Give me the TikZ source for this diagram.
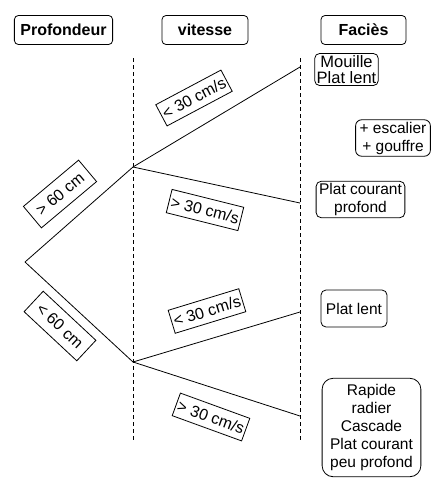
\documentclass[tikz,border=0pt]{standalone}
\usepackage{fontspec}
\setmainfont{Liberation Sans}
\usetikzlibrary{positioning}

\tikzset{
  titre/.style={draw, rounded corners=4pt, font=\fontsize{16}{18}\selectfont\bfseries, minimum height=29pt, inner xsep=6pt},
  facies/.style={draw, rounded corners=5pt, align=center, font=\fontsize{15.5}{18}\selectfont, inner xsep=4pt, inner ysep=2pt},
  seuil/.style={draw, fill=white, font=\fontsize{16}{18}\selectfont, inner xsep=2pt, minimum height=24pt},
  limite/.style={dashed, dash pattern=on 4pt off 3pt},
}

\begin{document}
\begin{tikzpicture}[x=1pt, y=-1pt, line width=0.8pt]
\useasboundingbox (0,0) rectangle (431,480);

% titres des colonnes
\path (63.5,30) node[titre] (tprof) {Profondeur};
\path (205,30) node[titre, minimum width=86pt] (tvit) {vitesse};
\path (363.5,30) node[titre, minimum width=85pt] (tfac) {Faciès};

% limites entre colonnes
\coordinate (l1h) at (133,58);
\coordinate (l1b) at (133,440);
\coordinate (l2h) at (300,58);
\coordinate (l2b) at (300,440);
\draw[limite] (l1h) -- (l1b);
\draw[limite] (l2h) -- (l2b);

% points de l'arbre
\coordinate (racine) at (25,262);
\coordinate (v1) at (133,167);
\coordinate (v2) at (133,362);
\coordinate (f1) at (300,67);
\coordinate (f2) at (300,203);
\coordinate (f3) at (300,312);
\coordinate (f4) at (300,416);

\draw (racine) -- (v1);
\draw (racine) -- (v2);
\draw (v1) -- (f1);
\draw (v1) -- (f2);
\draw (v2) -- (f3);
\draw (v2) -- (f4);

% seuils
\path (60,194) node[seuil, rotate=40, minimum height=28pt, minimum width=72pt] (p1) {> 60 cm};
\path (60,326) node[seuil, rotate=-43, minimum height=28pt, minimum width=72pt] (p2) {< 60 cm};
\path (194,98) node[seuil, rotate=28] (s1) {< 30 cm/s};
\path (205,210) node[seuil, rotate=-14] (s2) {> 30 cm/s};
\path (207,311) node[seuil, rotate=17] (s3) {< 30 cm/s};
\path (211,417) node[seuil, rotate=-20] (s4) {> 30 cm/s};

% facies
\path (346.5,69.5) node[facies, font=\fontsize{16.5}{16}\selectfont, inner xsep=2pt] (m1) {Mouille\\Plat lent};
\path (393,138) node[facies, rounded corners=6pt] (m2) {+ escalier\\+ gouffre};
\path (360.5,199.5) node[facies, inner xsep=3pt] (m3) {Plat courant\\profond};
\path (354,308.5) node[facies, inner xsep=5pt, minimum height=37pt] (m4) {Plat lent};
\path (371.5,427.5) node[facies, rounded corners=11pt, inner xsep=8pt, inner ysep=6pt] (m5) {Rapide\\radier\\Cascade\\Plat courant\\peu profond};

\end{tikzpicture}
\end{document}
